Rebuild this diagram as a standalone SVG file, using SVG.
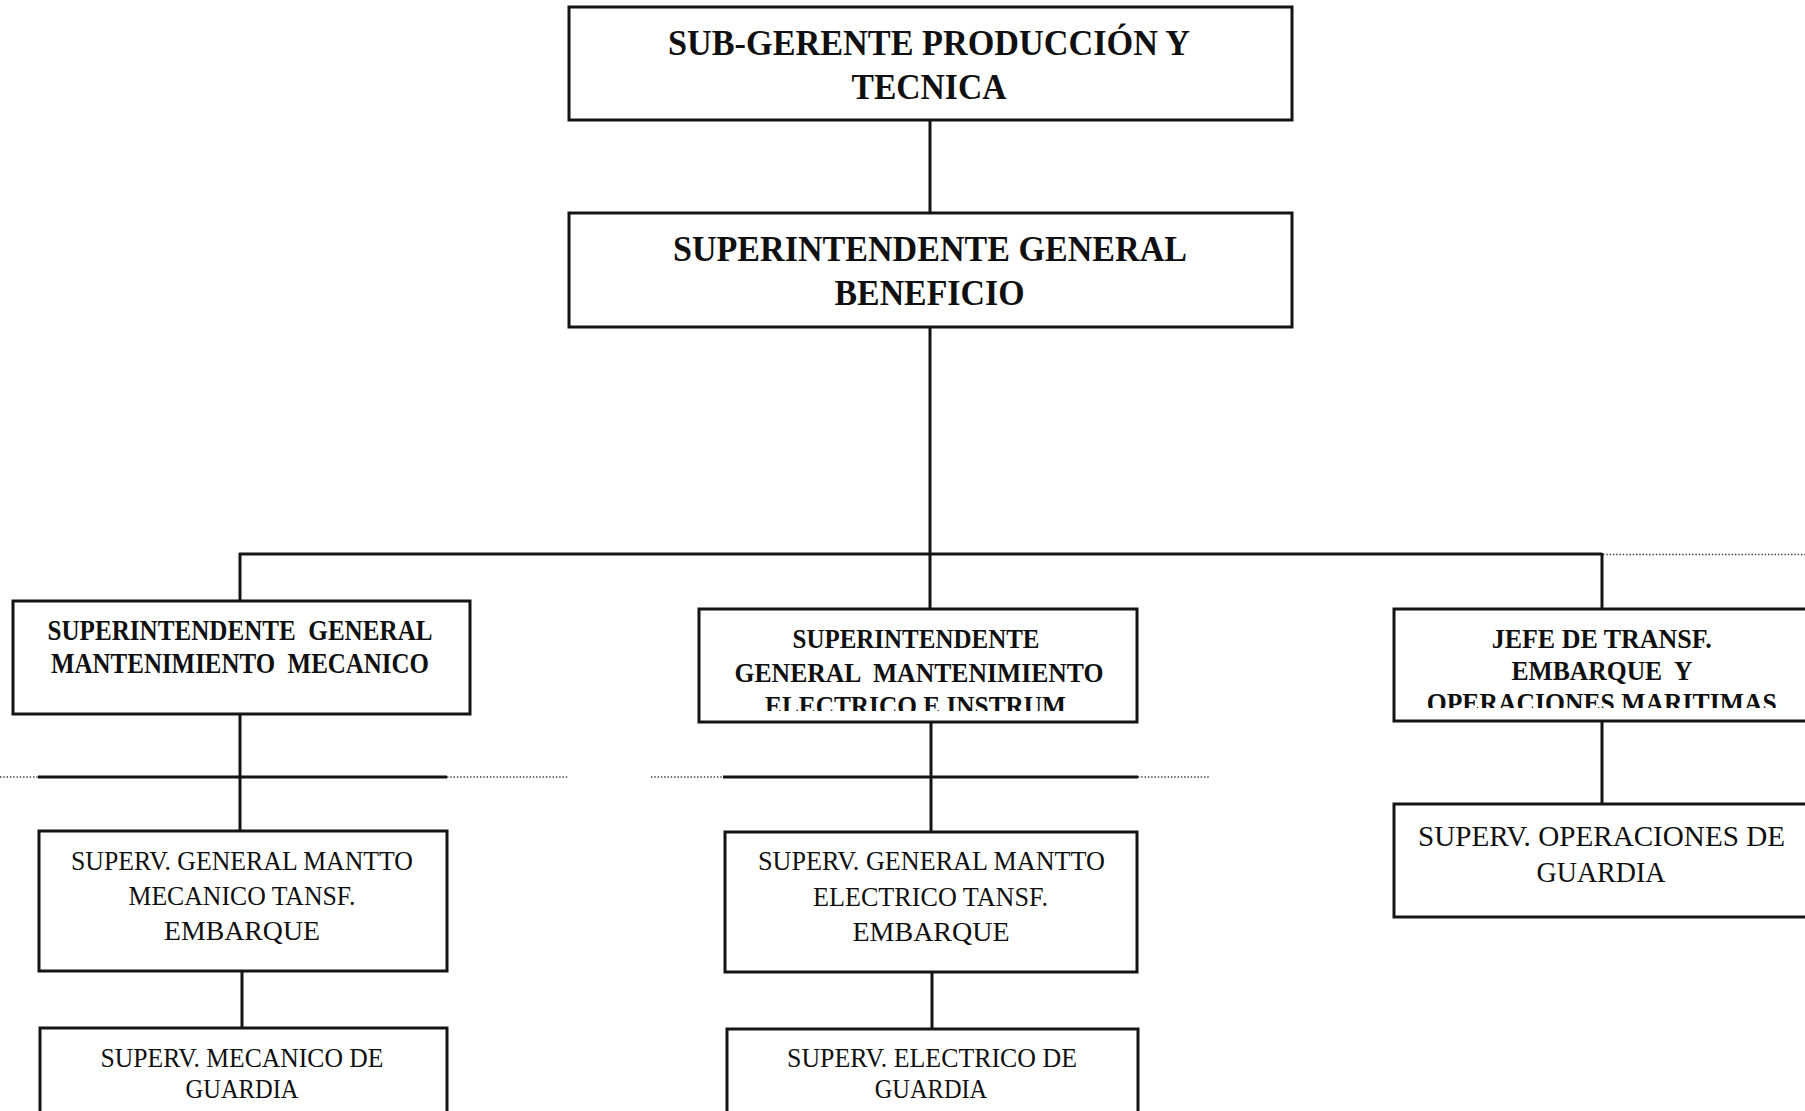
<svg xmlns="http://www.w3.org/2000/svg" width="1805" height="1111" viewBox="0 0 1805 1111">
  <style>
    .box { fill: #ffffff; stroke: #141414; stroke-width: 3; }
    .wire { fill: none; stroke: #141414; stroke-width: 3; }
    .dots { fill: none; stroke: #3a3a3a; stroke-width: 1.6; stroke-dasharray: 1.4 1.9; }
    text { font-family: "Liberation Serif", "Times New Roman", serif; fill: #101010; text-anchor: middle; }
    .b35 { font-weight: bold; font-size: 36px; }
    .b30 { font-weight: bold; font-size: 30px; }
    .b27 { font-weight: bold; font-size: 27.5px; }
    .r27 { font-size: 27.5px; }
    .r29 { font-size: 29px; }
  </style>
  <defs>
    <!-- third text line of these boxes is cut just above the baseline -->
    <clipPath id="clipElec"><rect x="699" y="609" width="438" height="102"/></clipPath>
    <clipPath id="clipMar"><rect x="1394" y="609" width="416" height="99"/></clipPath>
  </defs>

  <rect width="1805" height="1111" fill="#ffffff"/>

  <!-- connectors -->
  <g id="connectors">
    <line class="wire" x1="930" y1="120" x2="930" y2="213"/>
    <line class="wire" x1="930" y1="327" x2="930" y2="609"/>
    <line class="wire" x1="239" y1="554" x2="1602" y2="554"/>
    <line class="dots" x1="1603" y1="554.5" x2="1805" y2="554.5"/>
    <line class="wire" x1="240" y1="553" x2="240" y2="601"/>
    <line class="wire" x1="1602" y1="553" x2="1602" y2="609"/>

    <!-- mechanical branch -->
    <line class="wire" x1="240" y1="714" x2="240" y2="831"/>
    <line class="dots" x1="0" y1="777" x2="38" y2="777"/>
    <line class="wire" x1="38" y1="777" x2="447" y2="777"/>
    <line class="dots" x1="447" y1="777" x2="568" y2="777"/>
    <line class="wire" x1="242" y1="971" x2="242" y2="1028"/>

    <!-- electrical branch -->
    <line class="wire" x1="931" y1="722" x2="931" y2="832"/>
    <line class="dots" x1="651" y1="777" x2="723" y2="777"/>
    <line class="wire" x1="723" y1="777" x2="1138" y2="777"/>
    <line class="dots" x1="1138" y1="777" x2="1210" y2="777"/>
    <line class="wire" x1="932" y1="972" x2="932" y2="1029"/>

    <!-- maritime branch -->
    <line class="wire" x1="1602" y1="721" x2="1602" y2="804"/>
  </g>

  <g id="subgerente">
    <rect class="box" x="569" y="7" width="723" height="113"/>
    <text class="b35" x="929" y="55" textLength="522" lengthAdjust="spacingAndGlyphs">SUB-GERENTE PRODUCCIÓN Y</text>
    <text class="b35" x="929" y="99" textLength="155" lengthAdjust="spacingAndGlyphs">TECNICA</text>
  </g>

  <g id="superintendente-beneficio">
    <rect class="box" x="569" y="213" width="723" height="114"/>
    <text class="b35" x="930" y="261" textLength="514" lengthAdjust="spacingAndGlyphs">SUPERINTENDENTE GENERAL</text>
    <text class="b35" x="929.5" y="305" textLength="190" lengthAdjust="spacingAndGlyphs">BENEFICIO</text>
  </g>

  <g id="mant-mecanico">
    <rect class="box" x="13" y="601" width="457" height="113"/>
    <text class="b30" x="240" y="640" textLength="385" lengthAdjust="spacingAndGlyphs" xml:space="preserve">SUPERINTENDENTE  GENERAL</text>
    <text class="b30" x="240" y="672.5" textLength="378" lengthAdjust="spacingAndGlyphs" xml:space="preserve">MANTENIMIENTO  MECANICO</text>
  </g>

  <g id="mant-electrico">
    <rect class="box" x="699" y="609" width="438" height="113"/>
    <g clip-path="url(#clipElec)">
      <text class="b27" x="916" y="648" textLength="247" lengthAdjust="spacingAndGlyphs">SUPERINTENDENTE</text>
      <text class="b27" x="919" y="681.5" textLength="369" lengthAdjust="spacingAndGlyphs" xml:space="preserve">GENERAL  MANTENIMIENTO</text>
      <text class="b27" x="915.5" y="715" textLength="301" lengthAdjust="spacingAndGlyphs">ELECTRICO E INSTRUM</text>
    </g>
  </g>

  <g id="jefe-maritimas">
    <rect class="box" x="1394" y="609" width="416" height="112"/>
    <g clip-path="url(#clipMar)">
      <text class="b27" x="1601.7" y="648.3" textLength="220" lengthAdjust="spacingAndGlyphs">JEFE DE TRANSF.</text>
      <text class="b27" x="1602" y="680" textLength="181" lengthAdjust="spacingAndGlyphs" xml:space="preserve">EMBARQUE  Y</text>
      <text class="b27" x="1601.7" y="711.5" textLength="350" lengthAdjust="spacingAndGlyphs">OPERACIONES MARITIMAS</text>
    </g>
  </g>

  <g id="superv-mant-mecanico">
    <rect class="box" x="39" y="831" width="408" height="140"/>
    <text class="r27" x="242" y="870" textLength="342" lengthAdjust="spacingAndGlyphs">SUPERV. GENERAL MANTTO</text>
    <text class="r27" x="242" y="904.5" textLength="227" lengthAdjust="spacingAndGlyphs">MECANICO TANSF.</text>
    <text class="r27" x="242" y="940" textLength="156" lengthAdjust="spacingAndGlyphs">EMBARQUE</text>
  </g>

  <g id="superv-mecanico-guardia">
    <rect class="box" x="40" y="1028" width="407" height="100"/>
    <text class="r27" x="242" y="1067" textLength="283" lengthAdjust="spacingAndGlyphs">SUPERV. MECANICO DE</text>
    <text class="r27" x="242" y="1098" textLength="113" lengthAdjust="spacingAndGlyphs">GUARDIA</text>
  </g>

  <g id="superv-mant-electrico">
    <rect class="box" x="725" y="832" width="412" height="140"/>
    <text class="r27" x="931.5" y="870" textLength="347" lengthAdjust="spacingAndGlyphs">SUPERV. GENERAL MANTTO</text>
    <text class="r27" x="930.5" y="905.5" textLength="235" lengthAdjust="spacingAndGlyphs">ELECTRICO TANSF.</text>
    <text class="r27" x="931" y="941" textLength="157" lengthAdjust="spacingAndGlyphs">EMBARQUE</text>
  </g>

  <g id="superv-electrico-guardia">
    <rect class="box" x="727" y="1029" width="411" height="100"/>
    <text class="r27" x="932" y="1067" textLength="290" lengthAdjust="spacingAndGlyphs">SUPERV. ELECTRICO DE</text>
    <text class="r27" x="931" y="1098" textLength="112.5" lengthAdjust="spacingAndGlyphs">GUARDIA</text>
  </g>

  <g id="superv-operaciones-guardia">
    <rect class="box" x="1394" y="804" width="416" height="113"/>
    <text class="r29" x="1601.5" y="846" textLength="367" lengthAdjust="spacingAndGlyphs">SUPERV. OPERACIONES DE</text>
    <text class="r29" x="1601" y="881.5" textLength="129" lengthAdjust="spacingAndGlyphs">GUARDIA</text>
  </g>
</svg>
